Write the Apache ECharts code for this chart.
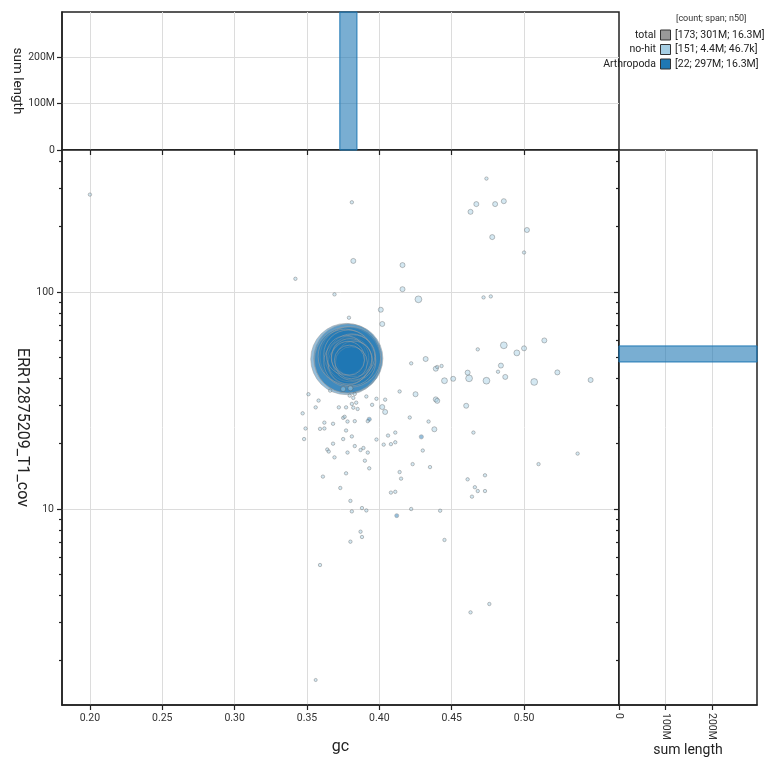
<!DOCTYPE html>
<html>
<head>
<meta charset="utf-8">
<title>blob plot</title>
<script src="https://cdn.jsdelivr.net/npm/echarts@6/dist/echarts.min.js"></script>
<style>
  html, body { margin: 0; padding: 0; background: #fff; }
  #chart { width: 770px; height: 770px; }
</style>
</head>
<body>
<div id="chart"></div>
<script>
// contigs: [gc, coverage, length]
const noHitContigs = [
  [0.200, 281, 5000], [0.474, 333, 5000], [0.381, 259, 5000], [0.467, 254, 45000],
  [0.480, 254, 45000], [0.486, 262, 45000], [0.463, 234, 45000], [0.502, 193, 45000],
  [0.478, 179, 45000], [0.500, 152, 5000], [0.382, 139, 45000], [0.416, 133, 45000],
  [0.342, 115, 5000], [0.416, 103, 45000], [0.369, 97.5, 5000], [0.427, 92.5, 130000],
  [0.472, 94.4, 5000], [0.477, 95.4, 5000], [0.379, 76.1, 5000], [0.401, 82.8, 45000],
  [0.402, 71.2, 45000], [0.514, 59.8, 45000], [0.486, 56.8, 130000], [0.468, 54.4, 5000],
  [0.495, 52.4, 80000], [0.500, 55.0, 45000], [0.432, 49.1, 45000], [0.422, 46.9, 5000],
  [0.439, 44.3, 45000], [0.440, 45.1, 5000], [0.443, 45.6, 5000], [0.445, 39.0, 80000],
  [0.451, 39.8, 45000], [0.461, 42.5, 45000], [0.462, 40.0, 130000], [0.474, 39.0, 130000],
  [0.482, 42.9, 5000], [0.484, 45.8, 45000], [0.487, 40.6, 45000], [0.507, 38.5, 130000],
  [0.523, 42.6, 45000], [0.546, 39.3, 45000], [0.366, 35.1, 5000], [0.375, 35.7, 45000],
  [0.380, 36.0, 45000], [0.383, 33.9, 5000], [0.351, 33.8, 5000], [0.358, 31.6, 5000],
  [0.356, 29.4, 5000], [0.347, 27.6, 5000], [0.372, 29.4, 5000], [0.377, 29.4, 5000],
  [0.381, 30.5, 5000], [0.384, 30.9, 5000], [0.382, 29.3, 5000], [0.385, 28.9, 5000],
  [0.391, 33.0, 5000], [0.398, 32.2, 5000], [0.404, 31.9, 5000], [0.395, 30.2, 5000],
  [0.402, 29.5, 45000], [0.404, 28.0, 45000], [0.414, 34.8, 5000], [0.425, 33.8, 45000],
  [0.439, 32.0, 45000], [0.440, 31.5, 45000], [0.460, 29.9, 45000], [0.421, 26.4, 5000],
  [0.434, 25.3, 5000], [0.438, 23.3, 45000], [0.392, 25.4, 5000], [0.375, 26.3, 5000],
  [0.376, 26.6, 5000], [0.378, 25.3, 5000], [0.383, 25.4, 5000], [0.362, 25.0, 5000],
  [0.368, 24.7, 5000], [0.359, 23.4, 5000], [0.362, 23.5, 5000], [0.349, 23.5, 5000],
  [0.348, 21.0, 5000], [0.377, 23.0, 5000], [0.375, 21.0, 5000], [0.381, 21.6, 5000],
  [0.368, 20.0, 5000], [0.383, 19.5, 5000], [0.364, 18.8, 5000], [0.365, 18.4, 5000],
  [0.369, 17.3, 5000], [0.378, 18.2, 5000], [0.387, 18.7, 5000], [0.389, 19.1, 5000],
  [0.392, 18.2, 5000], [0.390, 16.7, 5000], [0.393, 15.4, 5000], [0.398, 20.9, 5000],
  [0.406, 21.8, 5000], [0.403, 19.8, 5000], [0.408, 19.9, 5000], [0.411, 20.3, 5000],
  [0.411, 22.5, 5000], [0.430, 18.6, 5000], [0.423, 16.1, 5000], [0.435, 15.6, 5000],
  [0.414, 14.8, 5000], [0.415, 13.8, 5000], [0.361, 14.1, 5000], [0.377, 14.6, 5000],
  [0.373, 12.5, 5000], [0.408, 11.9, 5000], [0.411, 12.0, 5000], [0.465, 22.5, 5000],
  [0.461, 13.7, 5000], [0.473, 14.3, 5000], [0.466, 12.6, 5000], [0.468, 12.1, 5000],
  [0.473, 12.1, 5000], [0.464, 11.4, 5000], [0.510, 16.1, 5000], [0.537, 18.0, 5000],
  [0.380, 10.9, 5000], [0.381, 9.75, 5000], [0.388, 10.1, 5000], [0.391, 9.85, 5000],
  [0.422, 10.0, 5000], [0.442, 9.82, 5000], [0.387, 7.86, 5000], [0.388, 7.43, 5000],
  [0.380, 7.07, 5000], [0.445, 7.20, 5000], [0.359, 5.52, 5000], [0.356, 1.63, 2000],
  [0.463, 3.34, 5000], [0.476, 3.65, 5000], [0.3795, 33.3, 5000], [0.382, 32.5, 5000]
];

const arthropodaContigs = [
  [0.3772, 49.1, 35e6], [0.3785, 49.4, 33e6], [0.3780, 48.6, 30e6], [0.3800, 50.2, 25e6],
  [0.3765, 50.5, 20e6], [0.3805, 48.0, 16.3e6], [0.3785, 51.5, 16e6], [0.3810, 49.8, 15e6],
  [0.3775, 47.5, 14e6], [0.3795, 48.8, 13e6], [0.3820, 50.6, 12e6], [0.3788, 46.8, 11e6],
  [0.3812, 48.5, 10.5e6], [0.3770, 51.0, 10e6], [0.3798, 50.0, 9e6], [0.3825, 49.2, 8e6],
  [0.3783, 49.6, 7e6], [0.3806, 47.2, 6.5e6], [0.3793, 48.5, 5.6e6],
  [0.393, 25.9, 20000], [0.429, 21.5, 20000], [0.412, 9.32, 15000]
];

// histograms: [gc from, gc to, sum length] and [sum length, cov from, cov to]
const gcHistArthropoda = [[0.3727, 0.3845, 297e6]];
const covHistArthropoda = [[297e6, 47.6, 56.4]];

const gcTicks = [0.20, 0.25, 0.30, 0.35, 0.40, 0.45, 0.50];
const covMajorTicks = [10, 100];
const covMinorTicks = [2, 3, 4, 5, 6, 7, 8, 9, 20, 30, 40, 50, 60, 70, 80, 90, 200, 300, 400];
const lengthTicks = [0, 100e6, 200e6];

const legendHeader = '[count; span; n50]';
const legendNames = ['total', 'no-hit', 'Arthropoda'];
const legendStats = ['[173; 301M; 16.3M]', '[151; 4.4M; 46.7k]', '[22; 297M; 16.3M]'];
const legendColors = ['#999999', '#a6cee3', '#1f78b4'];

const gcRange = [0.1807, 0.5656];
const covRange = [1.25, 451];
const lengthMax = 297e6;

const FONT = 'Roboto, "DejaVu Sans", sans-serif';
const AXIS_COLOR = '#222';
const GRID_COLOR = '#dcdcdc';
const TICK_FONT = 10.5;

function lengthLabel(v) {
  return v === 0 ? '0' : (v / 1e6) + 'M';
}

function bubbleSize(val) {
  return 2.6 + 0.0116 * Math.sqrt(val[2]);
}

function byLengthDesc(a, b) { return b[2] - a[2]; }

// 坐标轴公共样式
function baseAxis(extra) {
  return Object.assign({
    axisLine: { show: true, lineStyle: { color: AXIS_COLOR, width: 1.5 } },
    axisTick: { show: true, length: 5, lineStyle: { color: AXIS_COLOR, width: 1.2 } },
    axisLabel: { show: false },
    splitLine: { show: false },
    nameMoveOverlap: false
  }, extra);
}

function renderGcBar(params, api) {
  const p0 = api.coord([api.value(0), 0]);
  const p1 = api.coord([api.value(1), api.value(2)]);
  return {
    type: 'rect',
    shape: { x: p0[0], y: p1[1], width: p1[0] - p0[0], height: p0[1] - p1[1] },
    style: { fill: 'rgba(31,120,180,0.6)', stroke: '#1f78b4', lineWidth: 1 }
  };
}

function renderCovBar(params, api) {
  const p0 = api.coord([0, api.value(1)]);
  const p1 = api.coord([api.value(0), api.value(2)]);
  return {
    type: 'rect',
    shape: { x: p0[0], y: p1[1], width: p1[0] - p0[0], height: p0[1] - p1[1] },
    style: { fill: 'rgba(31,120,180,0.6)', stroke: '#1f78b4', lineWidth: 1 }
  };
}

function buildLegend() {
  const items = [{
    type: 'text', x: 676, y: 19,
    style: { text: legendHeader, font: '9px ' + FONT, fill: '#333', verticalAlign: 'middle' }
  }];
  legendNames.forEach((name, i) => {
    const cy = 35 + i * 14.5;
    items.push({
      type: 'text', x: 656, y: cy,
      style: { text: name, font: '10.5px ' + FONT, fill: '#222', align: 'right', verticalAlign: 'middle' }
    });
    items.push({
      type: 'rect', shape: { x: 660.5, y: cy - 5, width: 10, height: 10 },
      style: { fill: legendColors[i], stroke: '#333', lineWidth: 1 }
    });
    items.push({
      type: 'text', x: 675, y: cy,
      style: { text: legendStats[i], font: '10.5px ' + FONT, fill: '#222', verticalAlign: 'middle' }
    });
  });
  return items;
}

const chart = echarts.init(document.getElementById('chart'), null, { renderer: 'canvas' });

const gridBase = { show: true, borderColor: AXIS_COLOR, borderWidth: 1.5, containLabel: false, outerBoundsMode: 'none' };

const option = {
  animation: false,
  backgroundColor: '#fff',
  textStyle: { fontFamily: FONT },
  grid: [
    Object.assign({ left: 62, top: 150, width: 557, height: 555 }, gridBase),
    Object.assign({ left: 62, top: 12, width: 557, height: 138 }, gridBase),
    Object.assign({ left: 619, top: 150, width: 138, height: 555 }, gridBase)
  ],
  xAxis: [
    baseAxis({
      gridIndex: 0, type: 'value', min: gcRange[0], max: gcRange[1], position: 'bottom',
      axisTick: { show: true, length: 5, customValues: gcTicks, lineStyle: { color: AXIS_COLOR, width: 1.2 } },
      axisLabel: { show: true, customValues: gcTicks, color: '#333', fontSize: TICK_FONT, margin: 8,
        formatter: v => v.toFixed(2) },
      splitLine: { show: true, lineStyle: { color: GRID_COLOR, width: 1 } },
      name: 'gc', nameLocation: 'middle', nameGap: 34,
      nameTextStyle: { fontSize: 16, color: '#222' }
    }),
    baseAxis({
      gridIndex: 1, type: 'value', min: gcRange[0], max: gcRange[1], position: 'bottom',
      axisTick: { show: true, length: 5, customValues: gcTicks, lineStyle: { color: AXIS_COLOR, width: 1.2 } },
      splitLine: { show: true, lineStyle: { color: GRID_COLOR, width: 1 } }
    }),
    baseAxis({
      gridIndex: 2, type: 'value', min: 0, max: lengthMax, position: 'bottom',
      axisTick: { show: true, length: 5, customValues: lengthTicks, lineStyle: { color: AXIS_COLOR, width: 1.2 } },
      axisLabel: { show: true, customValues: lengthTicks, rotate: -90, color: '#333', fontSize: TICK_FONT, margin: 8,
        formatter: lengthLabel },
      splitLine: { show: true, lineStyle: { color: GRID_COLOR, width: 1 } },
      name: 'sum length', nameLocation: 'middle', nameGap: 38,
      nameTextStyle: { fontSize: 14, color: '#222' }
    })
  ],
  yAxis: [
    baseAxis({
      gridIndex: 0, type: 'log', min: covRange[0], max: covRange[1], position: 'left',
      axisTick: { show: true, length: 5, customValues: covMajorTicks, lineStyle: { color: AXIS_COLOR, width: 1.2 } },
      axisLabel: { show: true, customValues: covMajorTicks, color: '#333', fontSize: TICK_FONT, margin: 8 },
      splitLine: { show: true, lineStyle: { color: GRID_COLOR, width: 1 } },
      name: 'ERR12875209_T1_cov', nameLocation: 'middle', nameGap: 32, nameRotate: -90,
      nameTextStyle: { fontSize: 16, color: '#222' }
    }),
    baseAxis({
      gridIndex: 0, type: 'log', min: covRange[0], max: covRange[1], position: 'left',
      axisLine: { show: false },
      axisTick: { show: true, length: 3, customValues: covMinorTicks, lineStyle: { color: AXIS_COLOR, width: 1.2 } }
    }),
    baseAxis({
      gridIndex: 1, type: 'value', min: 0, max: lengthMax, position: 'left',
      axisTick: { show: true, length: 5, customValues: lengthTicks, lineStyle: { color: AXIS_COLOR, width: 1.2 } },
      axisLabel: { show: true, customValues: lengthTicks, color: '#333', fontSize: TICK_FONT, margin: 7,
        formatter: lengthLabel },
      splitLine: { show: true, lineStyle: { color: GRID_COLOR, width: 1 } },
      name: 'sum length', nameLocation: 'middle', nameGap: 38, nameRotate: -90,
      nameTextStyle: { fontSize: 13.5, color: '#222' }
    }),
    baseAxis({
      gridIndex: 2, type: 'log', min: covRange[0], max: covRange[1], position: 'left',
      axisTick: { show: true, length: 5, customValues: covMajorTicks, lineStyle: { color: AXIS_COLOR, width: 1.2 } }
    }),
    baseAxis({
      gridIndex: 2, type: 'log', min: covRange[0], max: covRange[1], position: 'left',
      axisLine: { show: false },
      axisTick: { show: true, length: 3, customValues: covMinorTicks, lineStyle: { color: AXIS_COLOR, width: 1.2 } }
    })
  ],
  series: [
    {
      name: 'Arthropoda', type: 'scatter', xAxisIndex: 0, yAxisIndex: 0, silent: true,
      data: arthropodaContigs.slice().sort(byLengthDesc),
      symbolSize: bubbleSize,
      itemStyle: { color: 'rgba(31,120,180,0.6)', borderColor: 'rgba(160,160,160,0.75)', borderWidth: 0.9 }
    },
    {
      name: 'no-hit', type: 'scatter', xAxisIndex: 0, yAxisIndex: 0, silent: true,
      data: noHitContigs.slice().sort(byLengthDesc),
      symbolSize: bubbleSize,
      itemStyle: { color: 'rgba(166,206,227,0.6)', borderColor: 'rgba(80,80,80,0.55)', borderWidth: 0.8 }
    },
    {
      name: 'gc hist', type: 'custom', xAxisIndex: 1, yAxisIndex: 2, silent: true,
      data: gcHistArthropoda, encode: { x: [0, 1], y: 2 },
      renderItem: renderGcBar
    },
    {
      name: 'cov hist', type: 'custom', xAxisIndex: 2, yAxisIndex: 3, silent: true,
      data: covHistArthropoda, encode: { x: 0, y: [1, 2] },
      renderItem: renderCovBar
    }
  ],
  graphic: buildLegend()
};

chart.setOption(option);
</script>
</body>
</html>
